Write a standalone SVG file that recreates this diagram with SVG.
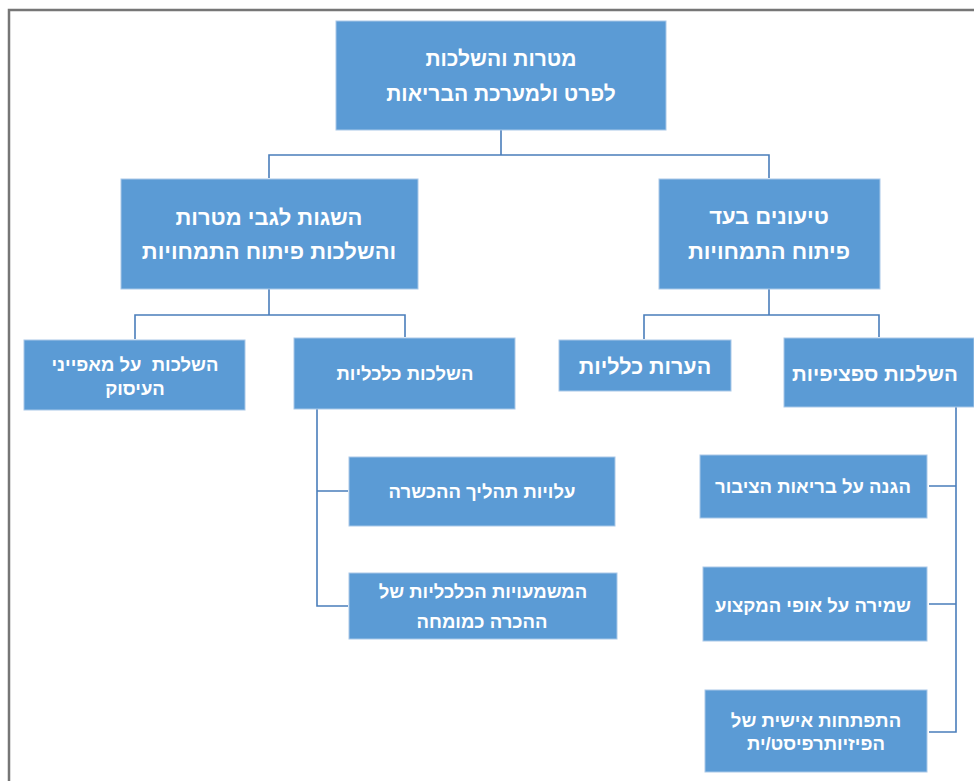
<svg xmlns="http://www.w3.org/2000/svg" width="974" height="781" viewBox="0 0 974 781">
<style>
.n{fill:#5B9BD5;stroke:#A9C8E8;stroke-width:1}
.t{fill:#ffffff;font-family:"Liberation Sans","DejaVu Sans",sans-serif;font-weight:bold;text-anchor:middle;direction:rtl}
.c{fill:none;stroke:#4A7EBB;stroke-width:1.6}
.f{fill:none;stroke:#767676;stroke-width:2.5}
</style>
<rect width="974" height="781" fill="#ffffff"/>
<path class="f" d="M9,781 V10 H974"/>
<g id="connectors">
<path class="c" d="M501,130 V155 M269,178 V155 H769 V178"/>
<path class="c" d="M269,289 V315 M135,339 V315 H405 V337"/>
<path class="c" d="M769,289 V315 M644,339 V315 H879 V337"/>
<path class="c" d="M317,409 V606 H348 M317,491 H348"/>
<path class="c" d="M956,407 V732 H929 M956,486 H929 M956,604 H929"/>
</g>
<g id="root">
<rect class="n" x="336" y="21" width="330" height="109"/>
<text class="t" x="501" y="66" font-size="21">מטרות והשלכות</text>
<text class="t" x="501" y="101" font-size="21">לפרט ולמערכת הבריאות</text>
</g>
<g id="perceptions">
<rect class="n" x="121" y="179" width="297" height="110"/>
<text class="t" x="269" y="225" font-size="22">השגות לגבי מטרות</text>
<text class="t" x="269" y="259" font-size="22">והשלכות פיתוח התמחויות</text>
</g>
<g id="arguments">
<rect class="n" x="659" y="179" width="221" height="110"/>
<text class="t" x="769" y="224" font-size="22" font-weight="normal">טיעונים בעד</text>
<text class="t" x="769" y="259" font-size="22" font-weight="normal">פיתוח התמחויות</text>
</g>
<g id="occupation">
<rect class="n" x="24" y="340" width="221" height="70"/>
<text class="t" x="135" y="371" font-size="18.5" xml:space="preserve">השלכות  על מאפייני</text>
<text class="t" x="135" y="395" font-size="18.5">העיסוק</text>
</g>
<g id="economic">
<rect class="n" x="294" y="338" width="221" height="71"/>
<text class="t" x="405" y="380" font-size="18.5">השלכות כלכליות</text>
</g>
<g id="general">
<rect class="n" x="559" y="340" width="172" height="51"/>
<text class="t" x="645" y="374" font-size="21.5">הערות כלליות</text>
</g>
<g id="specific">
<rect class="n" x="784" y="338" width="190" height="69"/>
<text class="t" x="875" y="381" font-size="20.5">השלכות ספציפיות</text>
</g>
<g id="training">
<rect class="n" x="349" y="457" width="266" height="69"/>
<text class="t" x="482" y="498" font-size="18.5">עלויות תהליך ההכשרה</text>
</g>
<g id="expert">
<rect class="n" x="349" y="573" width="268" height="66"/>
<text class="t" x="483" y="598" font-size="18.5">המשמעויות הכלכליות של</text>
<text class="t" x="482" y="628" font-size="18.5">ההכרה כמומחה</text>
</g>
<g id="public">
<rect class="n" x="700" y="455" width="227" height="63"/>
<text class="t" x="813" y="493" font-size="18.5">הגנה על בריאות הציבור</text>
</g>
<g id="profession">
<rect class="n" x="703" y="567" width="224" height="74"/>
<text class="t" x="813" y="612" font-size="18.5">שמירה על אופי המקצוע</text>
</g>
<g id="personal">
<rect class="n" x="705" y="690" width="222" height="82"/>
<text class="t" x="816" y="727" font-size="18.5">התפתחות אישית של</text>
<text class="t" x="816" y="750" font-size="18.5">הפיזיותרפיסט/ית</text>
</g>
</svg>
